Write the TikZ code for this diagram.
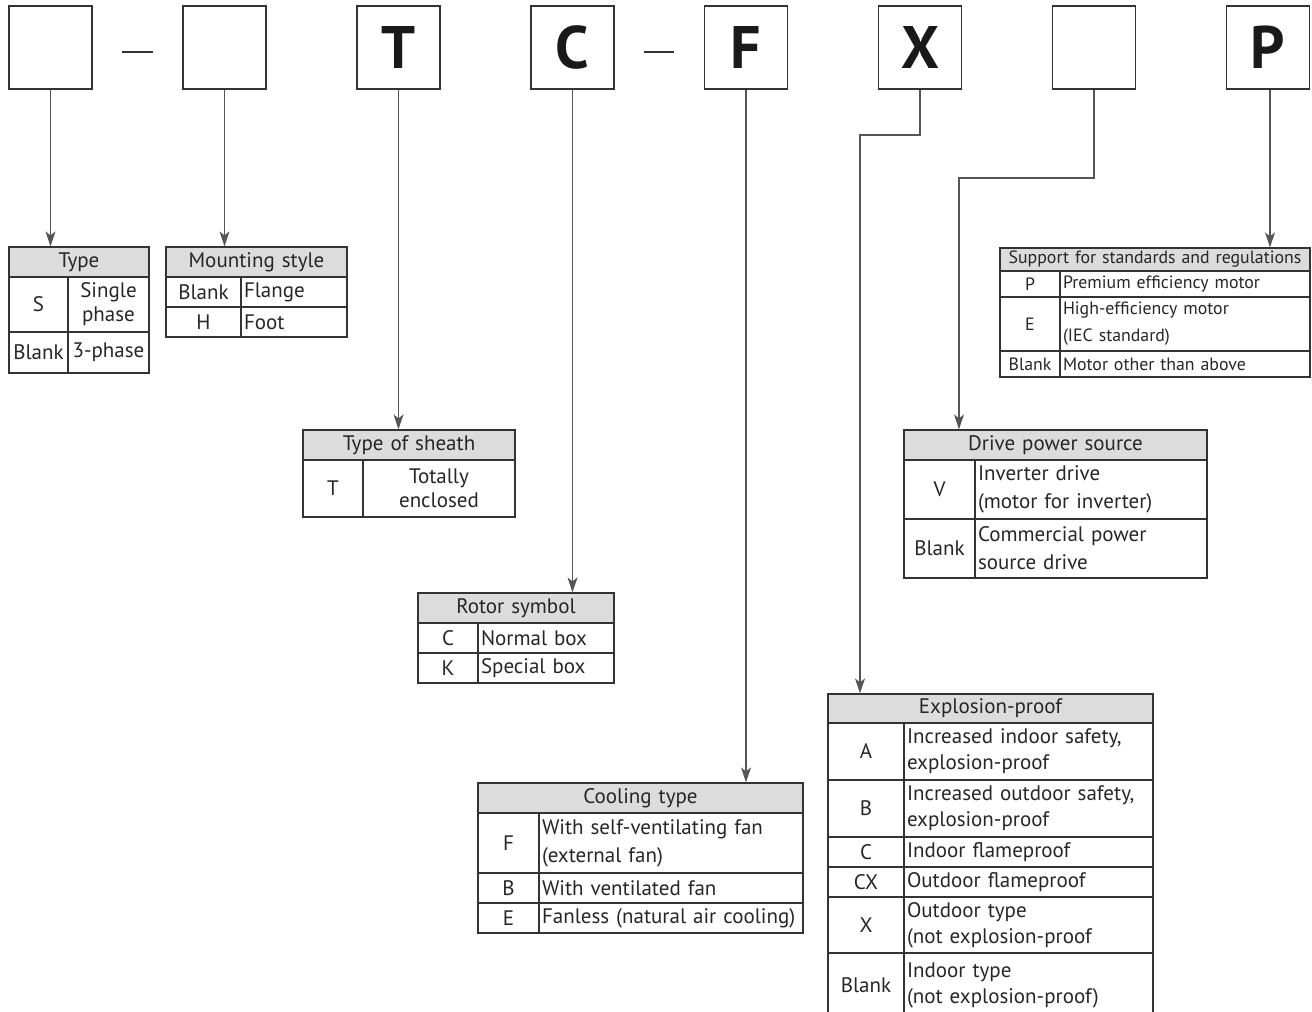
\documentclass[tikz,border=0pt]{standalone}
\usepackage{fontspec}
\setmainfont{PT Sans}
\usetikzlibrary{arrows.meta}
\definecolor{linec}{HTML}{333333}
\definecolor{connc}{HTML}{555555}
\definecolor{hdrgray}{HTML}{DCDCDC}
\newcommand\tcell[7]{%
  \pgfmathsetmacro\tcW{#4-#2-6}\pgfmathsetmacro\tcH{#5-#3}%
  \pgfmathsetmacro\tcX{(#2+#4)/2}\pgfmathsetmacro\tcY{(#3+#5)/2}%
  \node[cellbox,#6,text width=\tcW pt,minimum height=\tcH pt] (#1) at (\tcX,\tcY) {#7};}
\tikzset{
  cellbox/.style={draw=linec, line width=1.2pt, inner xsep=3pt, inner ysep=0pt, anchor=center, text=black!85},
  hdr/.style={fill=hdrgray, align=center},
  cc/.style={align=center},
  ll/.style={align=left},
  fa/.style={font=\fontsize{21}{24}\selectfont},
  fb/.style={font=\fontsize{17.8}{27}\selectfont},
  fc/.style={font=\fontsize{21}{28}\selectfont},
  fd/.style={font=\fontsize{21}{26}\selectfont},
  codebox/.style={draw=linec, line width=1.5pt, minimum width=83pt, minimum height=83pt, inner sep=0pt, font=\fontsize{60}{60}\selectfont\bfseries, text=black!90},
  conn/.style={draw=connc, line width=1.3pt, -{Stealth[length=15pt,width=10pt,inset=4pt]}},
  dashl/.style={draw=linec, line width=1.5pt}
}
\begin{document}
\begin{tikzpicture}[x=1pt,y=-1pt]
\useasboundingbox (0,0) rectangle (1312,1012);
\clip (0,0) rectangle (1312,1012);
% code boxes
\node[codebox] (b1) at (50.5,47.5) {};
\node[codebox] (b2) at (224.5,47.5) {};
\node[codebox] (b3) at (398.5,47.5) {T};
\node[codebox] (b4) at (572.5,47.5) {C};
\node[codebox] (b5) at (746,47.5) {F};
\node[codebox] (b6) at (920,47.5) {X};
\node[codebox] (b7) at (1094,47.5) {};
\node[codebox] (b8) at (1268,47.5) {P};
\coordinate (d1a) at (122,52); \coordinate (d1b) at (153,52);
\coordinate (d2a) at (644,52); \coordinate (d2b) at (674,52);
\draw[dashl] (d1a) -- (d1b);
\draw[dashl] (d2a) -- (d2b);
% Type
\tcell{typeh}{9}{247}{149}{277}{hdr,fa}{Type}
\tcell{typeS}{9}{277}{68}{332}{cc,fa}{S}
\tcell{typeSd}{68}{277}{149}{332}{cc,fa}{Single\\phase}
\tcell{typeB}{9}{332}{68}{373}{cc,fa}{Blank}
\tcell{typeBd}{68}{332}{149}{373}{cc,fa}{3-phase}
% Mounting
\tcell{mnth}{166}{247}{347}{277}{hdr,fa}{Mounting style}
\tcell{mntB}{166}{277}{241}{307}{cc,fa}{Blank}
\tcell{mntBd}{241}{277}{347}{307}{ll,fa}{Flange}
\tcell{mntH}{166}{307}{241}{337}{cc,fa}{H}
\tcell{mntHd}{241}{307}{347}{337}{ll,fa}{Foot}
% Support
\tcell{suph}{1000}{248}{1310}{271}{hdr,fb}{Support for standards and regulations}
\tcell{supP}{1000}{271}{1060}{297}{cc,fb}{P}
\tcell{supPd}{1060}{271}{1310}{297}{ll,fb}{Premium efficiency motor}
\tcell{supE}{1000}{297}{1060}{351}{cc,fb}{E}
\tcell{supEd}{1060}{297}{1310}{351}{ll,fb}{High-efficiency motor\\(IEC standard)}
\tcell{supB}{1000}{351}{1060}{377}{cc,fb}{Blank}
\tcell{supBd}{1060}{351}{1310}{377}{ll,fb}{Motor other than above}
% Sheath
\tcell{shh}{303}{430}{515}{460}{hdr,fa}{Type of sheath}
\tcell{shT}{303}{460}{363}{517}{cc,fa}{T}
\tcell{shTd}{363}{460}{515}{517}{cc,fa}{Totally\\enclosed}
% Rotor
\tcell{roth}{418}{593}{614}{623}{hdr,fa}{Rotor symbol}
\tcell{rotC}{418}{623}{478}{653}{cc,fa}{C}
\tcell{rotCd}{478}{623}{614}{653}{ll,fa}{Normal box}
\tcell{rotK}{418}{653}{478}{683}{cc,fa}{K}
\tcell{rotKd}{478}{653}{614}{683}{ll,fa}{Special box}
% Drive
\tcell{drvh}{904}{430}{1207}{460}{hdr,fa}{Drive power source}
\tcell{drvV}{904}{460}{975}{519}{cc,fa}{V}
\tcell{drvVd}{975}{460}{1207}{519}{ll,fc}{Inverter drive\\(motor for inverter)}
\tcell{drvB}{904}{519}{975}{578}{cc,fa}{Blank}
\tcell{drvBd}{975}{519}{1207}{578}{ll,fc}{Commercial power\\source drive}
% Cooling
\tcell{colh}{478}{783}{803}{813}{hdr,fa}{Cooling type}
\tcell{colF}{478}{813}{539}{873}{cc,fa}{F}
\tcell{colFd}{539}{813}{803}{873}{ll,fc}{With self-ventilating fan\\(external fan)}
\tcell{colB}{478}{873}{539}{903}{cc,fa}{B}
\tcell{colBd}{539}{873}{803}{903}{ll,fa}{With ventilated fan}
\tcell{colE}{478}{903}{539}{933}{cc,fa}{E}
\tcell{colEd}{539}{903}{803}{933}{ll,fa}{Fanless (natural air cooling)}
% Explosion-proof
\tcell{exph}{828}{694}{1153}{723}{hdr,fa}{Explosion-proof}
\tcell{expA}{828}{723}{904}{780}{cc,fa}{A}
\tcell{expAd}{904}{723}{1153}{780}{ll,fd}{Increased indoor safety,\\explosion-proof}
\tcell{expB}{828}{780}{904}{837}{cc,fa}{B}
\tcell{expBd}{904}{780}{1153}{837}{ll,fd}{Increased outdoor safety,\\explosion-proof}
\tcell{expC}{828}{837}{904}{867}{cc,fa}{C}
\tcell{expCd}{904}{837}{1153}{867}{ll,fa}{Indoor flameproof}
\tcell{expCX}{828}{867}{904}{897}{cc,fa}{CX}
\tcell{expCXd}{904}{867}{1153}{897}{ll,fa}{Outdoor flameproof}
\tcell{expX}{828}{897}{904}{953}{cc,fa}{X}
\tcell{expXd}{904}{897}{1153}{953}{ll,fd}{Outdoor type\\(not explosion-proof}
\tcell{expN}{828}{953}{904}{1017}{cc,fa}{Blank}
\tcell{expNd}{904}{953}{1153}{1017}{ll,fd}{Indoor type\\(not explosion-proof)}
% connectors
\coordinate (xk) at (860,135);
\coordinate (vk) at (959,178);
\draw[conn] (b1.south) -- (b1.south |- typeh.north);
\draw[conn] (b2.south) -- (b2.south |- mnth.north);
\draw[conn] (b3.south) -- (b3.south |- shh.north);
\draw[conn] (b4.south) -- (b4.south |- roth.north);
\draw[conn] (b5.south) -- (b5.south |- colh.north);
\draw[conn] (b6.south) |- (xk) -- (xk |- exph.north);
\draw[conn] (b7.south) |- (vk) -- (vk |- drvh.north);
\draw[conn] ([xshift=2pt]b8.south) -- ([xshift=2pt]b8.south |- suph.north);
\end{tikzpicture}
\end{document}
